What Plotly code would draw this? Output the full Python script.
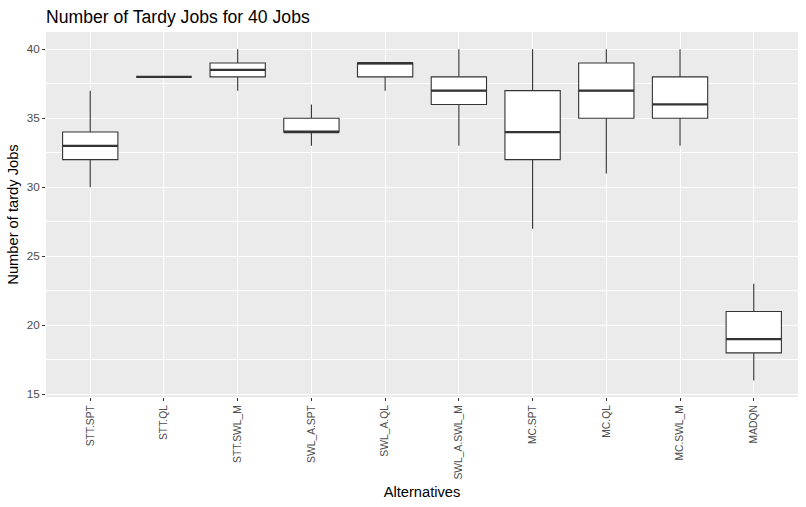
import plotly.graph_objects as go

categories = ["STT.SPT", "STT.QL", "STT.SWL_M", "SWL_A.SPT", "SWL_A.QL",
              "SWL_A.SWL_M", "MC.SPT", "MC.QL", "MC.SWL_M", "MADQN"]
lower = [30, 38, 37, 33, 37, 33, 27, 31, 33, 16]
q1 = [32, 38, 38, 34, 38, 36, 32, 35, 35, 18]
median = [33, 38, 38.5, 34, 39, 37, 34, 37, 36, 19]
q3 = [34, 38, 39, 35, 39, 38, 37, 39, 38, 21]
upper = [37, 38, 40, 36, 39, 40, 40, 40, 40, 23]
y_ticks = [15, 20, 25, 30, 35, 40]

dark = "#333333"

fig = go.Figure()
fig.add_trace(go.Box(
    x=categories, q1=q1, median=median, q3=q3,
    lowerfence=lower, upperfence=upper, width=0.75,
    fillcolor="white", line=dict(color=dark, width=1.1),
    whiskerwidth=0, boxpoints=False, showlegend=False, hoverinfo="skip",
))
fig.add_trace(go.Scatter(
    x=categories, y=median, mode="markers",
    marker=dict(symbol="line-ew", size=39.5, line=dict(color=dark, width=2.2)),
    showlegend=False, hoverinfo="skip",
))

fig.update_layout(
    width=806, height=507,
    margin=dict(l=46, r=8, t=32, b=110, autoexpand=False),
    paper_bgcolor="white", plot_bgcolor="#EBEBEB",
    font=dict(family="Liberation Sans, Arial, sans-serif"),
    title=dict(text="Number of Tardy Jobs for 40 Jobs", x=0, xref="paper",
               xanchor="left", y=1 - 17 / 507, yref="container", yanchor="middle",
               font=dict(size=17.6, color="black")),
)
fig.update_xaxes(
    type="category", range=[-0.6, 9.6], tickangle=-90,
    showgrid=True, gridcolor="white", gridwidth=1.1, zeroline=False,
    ticks="outside", ticklen=3, tickcolor=dark, tickwidth=1,
    tickfont=dict(size=10.3, color="#4D4D4D"),
    title=dict(text="Alternatives", font=dict(size=14.7, color="black"), standoff=8),
)
fig.update_yaxes(
    range=[14.8, 41.25], tickvals=y_ticks,
    showgrid=True, gridcolor="white", gridwidth=1.1, zeroline=False,
    ticks="outside", ticklen=3, tickcolor=dark, tickwidth=1,
    tickfont=dict(size=11.7, color="#4D4D4D"),
    minor=dict(dtick=2.5, tick0=15, showgrid=True, gridcolor="white", gridwidth=0.5, ticks=""),
    title=dict(text="Number of tardy Jobs", font=dict(size=14.7, color="black"), standoff=4),
)

fig.write_html("out.html", config={"displayModeBar": False},
               post_script="document.body.style.margin='0';")
